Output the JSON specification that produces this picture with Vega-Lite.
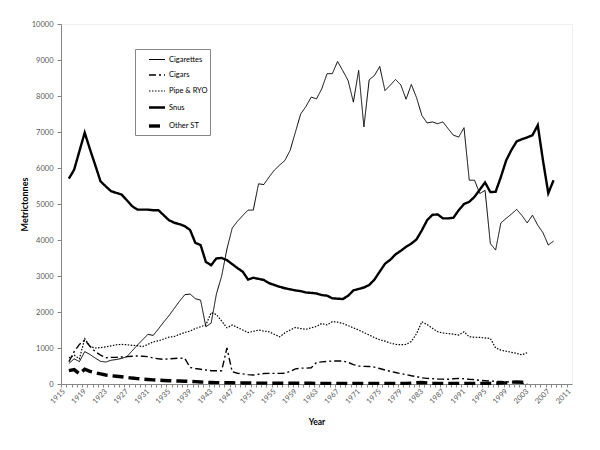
{
 "$schema": "https://vega.github.io/schema/vega-lite/v6.json",
 "width": 511,
 "height": 360,
 "autosize": {"type": "none"},
 "padding": {"left": 61, "top": 24, "right": 28, "bottom": 66},
 "background": "white",
 "config": {"font": "Lato", "view": {"stroke": "#eeeeee"}},
 "data": {"values": [
  {"year":1916,"Cigarettes":570,"Cigars":620,"Pipe":720,"Snus":5706,"OtherST":370},
  {"year":1917,"Cigarettes":700,"Cigars":900,"Pipe":800,"Snus":5955,"OtherST":400},
  {"year":1918,"Cigarettes":620,"Cigars":1100,"Pipe":700,"Snus":6470,"OtherST":280},
  {"year":1919,"Cigarettes":900,"Cigars":1220,"Pipe":1260,"Snus":6982,"OtherST":410},
  {"year":1920,"Cigarettes":820,"Cigars":1050,"Pipe":1040,"Snus":6520,"OtherST":350},
  {"year":1921,"Cigarettes":720,"Cigars":900,"Pipe":1000,"Snus":6080,"OtherST":310},
  {"year":1922,"Cigarettes":630,"Cigars":800,"Pipe":1010,"Snus":5630,"OtherST":280},
  {"year":1923,"Cigarettes":610,"Cigars":730,"Pipe":1030,"Snus":5490,"OtherST":250},
  {"year":1924,"Cigarettes":660,"Cigars":740,"Pipe":1060,"Snus":5354,"OtherST":230},
  {"year":1925,"Cigarettes":680,"Cigars":740,"Pipe":1090,"Snus":5310,"OtherST":215},
  {"year":1926,"Cigarettes":710,"Cigars":750,"Pipe":1100,"Snus":5262,"OtherST":200},
  {"year":1927,"Cigarettes":760,"Cigars":760,"Pipe":1090,"Snus":5104,"OtherST":185},
  {"year":1928,"Cigarettes":920,"Cigars":770,"Pipe":1075,"Snus":4940,"OtherST":165},
  {"year":1929,"Cigarettes":1080,"Cigars":780,"Pipe":1065,"Snus":4845,"OtherST":150},
  {"year":1930,"Cigarettes":1230,"Cigars":770,"Pipe":1040,"Snus":4845,"OtherST":135},
  {"year":1931,"Cigarettes":1380,"Cigars":760,"Pipe":1100,"Snus":4845,"OtherST":125},
  {"year":1932,"Cigarettes":1350,"Cigars":720,"Pipe":1170,"Snus":4827,"OtherST":115},
  {"year":1933,"Cigarettes":1530,"Cigars":700,"Pipe":1200,"Snus":4827,"OtherST":105},
  {"year":1934,"Cigarettes":1720,"Cigars":685,"Pipe":1250,"Snus":4688,"OtherST":98},
  {"year":1935,"Cigarettes":1900,"Cigars":700,"Pipe":1300,"Snus":4549,"OtherST":92},
  {"year":1936,"Cigarettes":2100,"Cigars":710,"Pipe":1320,"Snus":4480,"OtherST":87},
  {"year":1937,"Cigarettes":2300,"Cigars":720,"Pipe":1380,"Snus":4440,"OtherST":82},
  {"year":1938,"Cigarettes":2480,"Cigars":710,"Pipe":1430,"Snus":4383,"OtherST":77},
  {"year":1939,"Cigarettes":2500,"Cigars":460,"Pipe":1470,"Snus":4280,"OtherST":72},
  {"year":1940,"Cigarettes":2370,"Cigars":430,"Pipe":1540,"Snus":3920,"OtherST":65},
  {"year":1941,"Cigarettes":2330,"Cigars":410,"Pipe":1590,"Snus":3860,"OtherST":55},
  {"year":1942,"Cigarettes":1590,"Cigars":390,"Pipe":1640,"Snus":3390,"OtherST":48},
  {"year":1943,"Cigarettes":1690,"Cigars":370,"Pipe":1980,"Snus":3300,"OtherST":42},
  {"year":1944,"Cigarettes":2500,"Cigars":370,"Pipe":1930,"Snus":3490,"OtherST":39},
  {"year":1945,"Cigarettes":3000,"Cigars":370,"Pipe":1750,"Snus":3500,"OtherST":37},
  {"year":1946,"Cigarettes":3750,"Cigars":1000,"Pipe":1560,"Snus":3440,"OtherST":35},
  {"year":1947,"Cigarettes":4330,"Cigars":340,"Pipe":1640,"Snus":3330,"OtherST":33},
  {"year":1948,"Cigarettes":4520,"Cigars":300,"Pipe":1570,"Snus":3220,"OtherST":31},
  {"year":1949,"Cigarettes":4680,"Cigars":280,"Pipe":1500,"Snus":3120,"OtherST":29},
  {"year":1950,"Cigarettes":4830,"Cigars":260,"Pipe":1430,"Snus":2900,"OtherST":27},
  {"year":1951,"Cigarettes":4830,"Cigars":250,"Pipe":1460,"Snus":2950,"OtherST":26},
  {"year":1952,"Cigarettes":5560,"Cigars":270,"Pipe":1500,"Snus":2920,"OtherST":25},
  {"year":1953,"Cigarettes":5540,"Cigars":290,"Pipe":1470,"Snus":2890,"OtherST":24},
  {"year":1954,"Cigarettes":5750,"Cigars":296,"Pipe":1450,"Snus":2800,"OtherST":23},
  {"year":1955,"Cigarettes":5940,"Cigars":296,"Pipe":1380,"Snus":2750,"OtherST":22},
  {"year":1956,"Cigarettes":6080,"Cigars":296,"Pipe":1310,"Snus":2700,"OtherST":21},
  {"year":1957,"Cigarettes":6210,"Cigars":300,"Pipe":1420,"Snus":2660,"OtherST":20},
  {"year":1958,"Cigarettes":6490,"Cigars":350,"Pipe":1500,"Snus":2630,"OtherST":20},
  {"year":1959,"Cigarettes":7000,"Cigars":420,"Pipe":1570,"Snus":2600,"OtherST":20},
  {"year":1960,"Cigarettes":7500,"Cigars":440,"Pipe":1540,"Snus":2580,"OtherST":19},
  {"year":1961,"Cigarettes":7710,"Cigars":440,"Pipe":1520,"Snus":2540,"OtherST":19},
  {"year":1962,"Cigarettes":7970,"Cigars":450,"Pipe":1560,"Snus":2530,"OtherST":19},
  {"year":1963,"Cigarettes":7920,"Cigars":600,"Pipe":1600,"Snus":2515,"OtherST":18},
  {"year":1964,"Cigarettes":8200,"Cigars":615,"Pipe":1680,"Snus":2470,"OtherST":18},
  {"year":1965,"Cigarettes":8620,"Cigars":625,"Pipe":1640,"Snus":2455,"OtherST":18},
  {"year":1966,"Cigarettes":8620,"Cigars":638,"Pipe":1730,"Snus":2380,"OtherST":18},
  {"year":1967,"Cigarettes":8960,"Cigars":640,"Pipe":1720,"Snus":2370,"OtherST":17},
  {"year":1968,"Cigarettes":8700,"Cigars":640,"Pipe":1680,"Snus":2360,"OtherST":17},
  {"year":1969,"Cigarettes":8430,"Cigars":600,"Pipe":1620,"Snus":2450,"OtherST":17},
  {"year":1970,"Cigarettes":7830,"Cigars":540,"Pipe":1560,"Snus":2600,"OtherST":17},
  {"year":1971,"Cigarettes":8710,"Cigars":500,"Pipe":1500,"Snus":2640,"OtherST":17},
  {"year":1972,"Cigarettes":7140,"Cigars":490,"Pipe":1430,"Snus":2680,"OtherST":16},
  {"year":1973,"Cigarettes":8450,"Cigars":485,"Pipe":1360,"Snus":2750,"OtherST":16},
  {"year":1974,"Cigarettes":8570,"Cigars":470,"Pipe":1290,"Snus":2900,"OtherST":16},
  {"year":1975,"Cigarettes":8820,"Cigars":430,"Pipe":1230,"Snus":3120,"OtherST":16},
  {"year":1976,"Cigarettes":8150,"Cigars":390,"Pipe":1190,"Snus":3340,"OtherST":16},
  {"year":1977,"Cigarettes":8300,"Cigars":350,"Pipe":1140,"Snus":3450,"OtherST":16},
  {"year":1978,"Cigarettes":8460,"Cigars":320,"Pipe":1100,"Snus":3600,"OtherST":16},
  {"year":1979,"Cigarettes":8310,"Cigars":290,"Pipe":1090,"Snus":3700,"OtherST":16},
  {"year":1980,"Cigarettes":7910,"Cigars":260,"Pipe":1100,"Snus":3810,"OtherST":18},
  {"year":1981,"Cigarettes":8320,"Cigars":230,"Pipe":1180,"Snus":3900,"OtherST":25},
  {"year":1982,"Cigarettes":7950,"Cigars":205,"Pipe":1400,"Snus":4020,"OtherST":35},
  {"year":1983,"Cigarettes":7460,"Cigars":170,"Pipe":1730,"Snus":4270,"OtherST":40},
  {"year":1984,"Cigarettes":7250,"Cigars":155,"Pipe":1650,"Snus":4550,"OtherST":30},
  {"year":1985,"Cigarettes":7280,"Cigars":150,"Pipe":1550,"Snus":4700,"OtherST":20},
  {"year":1986,"Cigarettes":7230,"Cigars":140,"Pipe":1450,"Snus":4710,"OtherST":18},
  {"year":1987,"Cigarettes":7280,"Cigars":135,"Pipe":1420,"Snus":4600,"OtherST":17},
  {"year":1988,"Cigarettes":7090,"Cigars":130,"Pipe":1400,"Snus":4600,"OtherST":17},
  {"year":1989,"Cigarettes":6910,"Cigars":145,"Pipe":1385,"Snus":4620,"OtherST":17},
  {"year":1990,"Cigarettes":6860,"Cigars":155,"Pipe":1360,"Snus":4830,"OtherST":17},
  {"year":1991,"Cigarettes":7120,"Cigars":145,"Pipe":1450,"Snus":5000,"OtherST":17},
  {"year":1992,"Cigarettes":5660,"Cigars":130,"Pipe":1310,"Snus":5060,"OtherST":17},
  {"year":1993,"Cigarettes":5660,"Cigars":120,"Pipe":1300,"Snus":5200,"OtherST":17},
  {"year":1994,"Cigarettes":5290,"Cigars":100,"Pipe":1295,"Snus":5400,"OtherST":17},
  {"year":1995,"Cigarettes":5380,"Cigars":90,"Pipe":1280,"Snus":5600,"OtherST":17},
  {"year":1996,"Cigarettes":3900,"Cigars":83,"Pipe":1265,"Snus":5330,"OtherST":18},
  {"year":1997,"Cigarettes":3720,"Cigars":75,"Pipe":1000,"Snus":5340,"OtherST":20},
  {"year":1998,"Cigarettes":4475,"Cigars":68,"Pipe":940,"Snus":5750,"OtherST":25},
  {"year":1999,"Cigarettes":4600,"Cigars":62,"Pipe":910,"Snus":6210,"OtherST":35},
  {"year":2000,"Cigarettes":4720,"Cigars":50,"Pipe":880,"Snus":6500,"OtherST":50},
  {"year":2001,"Cigarettes":4850,"Cigars":40,"Pipe":850,"Snus":6740,"OtherST":55},
  {"year":2002,"Cigarettes":4680,"Cigars":20,"Pipe":810,"Snus":6800,"OtherST":50},
  {"year":2003,"Cigarettes":4475,"Cigars":5,"Pipe":870,"Snus":6850,"OtherST":30},
  {"year":2004,"Cigarettes":4690,"Snus":6910},
  {"year":2005,"Cigarettes":4410,"Snus":7190},
  {"year":2006,"Cigarettes":4200,"Snus":6200},
  {"year":2007,"Cigarettes":3860,"Snus":5300},
  {"year":2008,"Cigarettes":3970,"Snus":5660}
 ]},
 "transform": [{"fold": ["Cigarettes", "Cigars", "Pipe", "Snus", "OtherST"], "as": ["series", "value"]}],
 "mark": {"type": "line", "color": "black"},
 "encoding": {
  "x": {
   "field": "year", "type": "quantitative",
   "scale": {"domain": [1914.5, 2011.5], "nice": false, "zero": false},
   "axis": {
    "title": "Year", "titleFontSize": 8.5, "titleFontWeight": "bold", "titleColor": "#000000", "titlePadding": 13,
    "values": [1915,1916,1917,1918,1919,1920,1921,1922,1923,1924,1925,1926,1927,1928,1929,1930,1931,1932,1933,1934,1935,1936,1937,1938,1939,1940,1941,1942,1943,1944,1945,1946,1947,1948,1949,1950,1951,1952,1953,1954,1955,1956,1957,1958,1959,1960,1961,1962,1963,1964,1965,1966,1967,1968,1969,1970,1971,1972,1973,1974,1975,1976,1977,1978,1979,1980,1981,1982,1983,1984,1985,1986,1987,1988,1989,1990,1991,1992,1993,1994,1995,1996,1997,1998,1999,2000,2001,2002,2003,2004,2005,2006,2007,2008,2009,2010,2011],
    "format": "d",
    "labelExpr": "(datum.value - 1915) % 4 == 0 ? datum.label : ''",
    "labelAngle": -45, "labelAlign": "right", "labelBaseline": "middle",
    "labelFontSize": 7.5, "labelColor": "#595959", "labelPadding": 3,
    "labelOverlap": false, "labelBound": false, "labelFlush": false,
    "tickOffset": -2.63, "labelOffset": 2.63,
    "tickSize": 3, "tickColor": "#868686", "domainColor": "#868686", "grid": false
   }
  },
  "y": {
   "field": "value", "type": "quantitative",
   "scale": {"domain": [0, 10000], "nice": false},
   "axis": {
    "title": "Metrictonnes", "titleFontSize": 9, "titleFontWeight": "bold", "titleColor": "#000000", "titlePadding": 2,
    "values": [0,1000,2000,3000,4000,5000,6000,7000,8000,9000,10000],
    "format": "d", "labelFontSize": 7.5, "labelColor": "#595959", "labelPadding": 4,
    "tickSize": 4, "tickColor": "#868686", "domainColor": "#868686", "grid": false
   }
  },
  "strokeDash": {
   "field": "series", "type": "nominal",
   "scale": {"domain": ["Cigarettes", "Cigars", "Pipe", "Snus", "OtherST"], "range": [[1, 0], [7, 3, 2, 3], [1.5, 1.5], [1, 0], [11, 5]]},
   "legend": {
    "title": null, "orient": "none", "legendX": 74, "legendY": 25,
    "strokeColor": "#868686", "fillColor": "white", "padding": 2,
    "symbolType": "stroke", "symbolSize": 256, "symbolStrokeColor": "black", "symbolOffset": 10,
    "rowPadding": 3, "labelFontSize": 7.5, "labelColor": "#000000", "labelOffset": 2,
    "labelExpr": "datum.label == 'Pipe' ? 'Pipe & RYO ' : datum.label == 'OtherST' ? 'Other ST' : datum.label"
   }
  },
  "strokeWidth": {
   "field": "series", "type": "nominal",
   "scale": {"type": "ordinal", "domain": ["Cigarettes", "Cigars", "Pipe", "Snus", "OtherST"], "range": [1, 1.4, 1.2, 2.4, 3.4]},
   "legend": {
    "title": null, "orient": "none", "legendX": 74, "legendY": 25,
    "strokeColor": "#868686", "fillColor": "white", "padding": 2,
    "symbolType": "stroke", "symbolSize": 256, "symbolStrokeColor": "black", "symbolOffset": 10,
    "rowPadding": 3, "labelFontSize": 7.5, "labelColor": "#000000", "labelOffset": 2,
    "labelExpr": "datum.label == 'Pipe' ? 'Pipe & RYO ' : datum.label == 'OtherST' ? 'Other ST' : datum.label"
   }
  }
 }
}
